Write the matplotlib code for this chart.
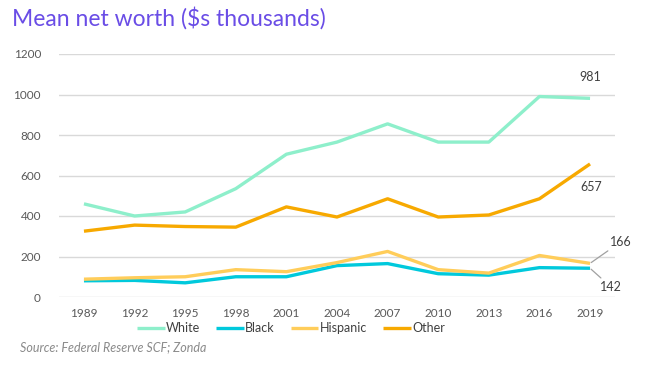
import matplotlib.pyplot as plt

plt.rcParams['font.family'] = ['Lato', 'DejaVu Sans']

years = [1989, 1992, 1995, 1998, 2001, 2004, 2007, 2010, 2013, 2016, 2019]
white = [460, 400, 420, 535, 705, 765, 855, 765, 765, 990, 981]
black = [80, 82, 70, 100, 100, 155, 165, 115, 108, 145, 142]
hispanic = [88, 95, 100, 135, 125, 170, 225, 135, 118, 205, 166]
other = [325, 355, 348, 345, 445, 395, 485, 395, 405, 485, 657]

series = [
    ("White", white, "#8eefcb"),
    ("Black", black, "#00c9dc"),
    ("Hispanic", hispanic, "#ffcd5a"),
    ("Other", other, "#f7a900"),
]

fig = plt.figure(figsize=(6.47, 3.67), dpi=100)
ax = fig.add_axes([59 / 647, 1 - 297 / 367, (615 - 59) / 647, (297 - 54) / 367])

for name, vals, col in series:
    ax.plot(years, vals, color=col, lw=2.4, label=name, solid_capstyle='butt')

ax.set_ylim(0, 1200)
ax.set_xlim(1987.52, 2020.48)
ax.set_yticks(range(0, 1201, 200))
ax.set_xticks(years)
ax.grid(axis='y', color='#d9d9d9', lw=1)
ax.set_axisbelow(True)
for s in ax.spines.values():
    s.set_visible(False)
ax.tick_params(length=0, labelsize=8.5, labelcolor='#595959')
ax.tick_params(axis='y', pad=13)
ax.tick_params(axis='x', pad=8)

# end labels
lab = dict(fontsize=9, color='#404040')
ax.annotate("981", (2019, white[-1]), xytext=(0, 11), textcoords='offset points',
            ha='center', va='bottom', **lab)
ax.annotate("657", (2019, other[-1]), xytext=(1, -12), textcoords='offset points',
            ha='center', va='top', **lab)
ax.annotate("166", (2019, hispanic[-1]), xytext=(14, 11), textcoords='offset points',
            ha='left', va='bottom', **lab,
            arrowprops=dict(arrowstyle='-', color='#a0a0a0', lw=0.9, shrinkA=0, shrinkB=1))
ax.annotate("142", (2019, black[-1]), xytext=(7, -9), textcoords='offset points',
            ha='left', va='top', **lab,
            arrowprops=dict(arrowstyle='-', color='#a0a0a0', lw=0.9, shrinkA=0, shrinkB=1))

fig.legend(loc='center', bbox_to_anchor=(291 / 647, 1 - 328 / 367), ncol=4,
           frameon=False, fontsize=9, handlelength=2.2, handletextpad=0.1,
           columnspacing=1.3, labelcolor='#404040')

fig.text(12 / 647, 1 - 18 / 367, "Mean net worth ($s thousands)", fontsize=16.5,
         color='#6a4de6', va='center', ha='left')
fig.text(20 / 647, 1 - 347 / 367, "Source: Federal Reserve SCF; Zonda", fontsize=9,
         color='#8a8a8a', style='italic', va='center', ha='left')

fig.savefig("out.png", dpi=100)
